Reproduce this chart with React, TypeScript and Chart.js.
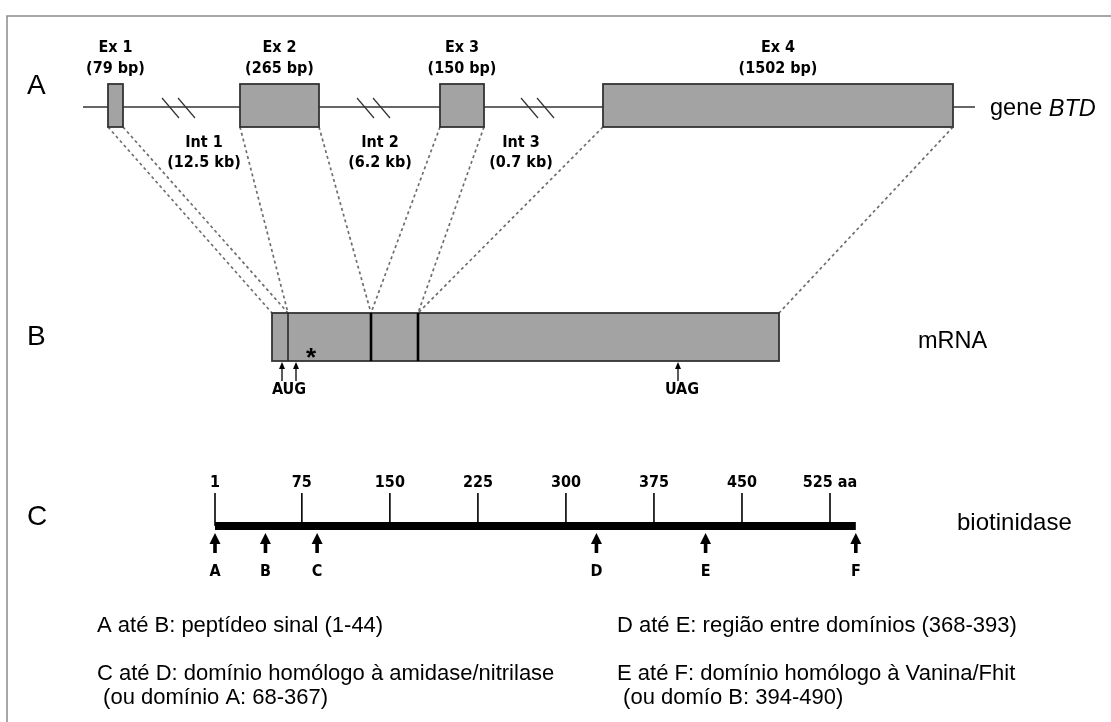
import React, { useEffect, useRef } from "react";
import { Chart, registerables } from "chart.js";

Chart.register(...registerables);

const W = 1111;
const H = 722;

// ---------- Panel A: gene BTD (schematic units along x) ----------
const exonNames = ["Ex 1", "Ex 2", "Ex 3", "Ex 4"];
const exonSizes = ["(79 bp)", "(265 bp)", "(150 bp)", "(1502 bp)"];
const exonStart = [108, 240, 440, 603];
const exonEnd = [123, 319, 484, 953];
const intronNames = ["Int 1", "Int 2", "Int 3"];
const intronSizes = ["(12.5 kb)", "(6.2 kb)", "(0.7 kb)"];
const intronLabelAt = [204, 380, 521];
const intronBreakAt = [162, 357, 521];
const geneExtent = [83, 975];

// ---------- Panel B: mRNA (schematic units along x) ----------
const mrnaExtent = [272, 779];
const mrnaJunctions = [288, 371, 418];
const mrnaExonStart = [272, 288, 371, 418];
const mrnaExonEnd = [288, 371, 418, 779];
const augSites = [282, 296];
const uagSites = [678];

// ---------- Panel C: protein (amino acids) ----------
const aaTicks = [1, 75, 150, 225, 300, 375, 450, 525];
const aaTickLabels = ["1", "75", "150", "225", "300", "375", "450", "525 aa"];
const proteinLength = 547;
const markerAA = [1, 44, 88, 326, 419, 547];
const markerLabels = ["A", "B", "C", "D", "E", "F"];

// ---------- Legend text ----------
const legendLeft = [
  "A até B: peptídeo sinal (1-44)",
  "C até D: domínio homólogo à amidase/nitrilase",
  " (ou domínio A: 68-367)",
];
const legendRight = [
  "D até E: região entre domínios (368-393)",
  "E até F: domínio homólogo à Vanina/Fhit",
  " (ou domío B: 394-490)",
];

// ---------- layout (pixels in the y scale) ----------
const L = {
  frameLeft: 7,
  frameTop: 16,
  geneY: 107,
  exonTop: 84,
  exonBottom: 127,
  exonLabel1: 48,
  exonLabel2: 69,
  intronLabel1: 143,
  intronLabel2: 163,
  breakTop: 98,
  breakBottom: 118,
  mrnaTop: 313,
  mrnaBottom: 361,
  codonText: 390,
  protY: 526,
  tickTop: 493,
  tickLabel: 483,
  arrowTip: 533,
  arrowBase: 553,
  markerText: 572,
  legendY: [626, 674, 698],
  legendLeftX: 97,
  legendRightX: 617,
};

// aa axis calibrated so aa 1 -> 215 px and aa 525 -> 830 px
const pxPerAA = (830 - 215) / 524;
const aaMin = 1 - 215 / pxPerAA;
const aaMax = aaMin + W / pxPerAA;

const BOLD = "'DejaVu Sans Condensed', 'DejaVu Sans', sans-serif";
const SANS = "'Liberation Sans', Arial, sans-serif";

function seg(x1: number, y1: number, x2: number, y2: number, style: any, axis = "x") {
  return {
    type: "scatter" as const,
    data: [
      { x: x1, y: y1 },
      { x: x2, y: y2 },
    ],
    showLine: true,
    pointRadius: 0,
    fill: false,
    xAxisID: axis,
    yAxisID: "y",
    borderCapStyle: "butt",
    ...style,
  };
}

function buildDatasets() {
  const ds: any[] = [];
  // frame
  ds.push({
    type: "scatter",
    data: [
      { x: L.frameLeft, y: H },
      { x: L.frameLeft, y: L.frameTop },
      { x: W, y: L.frameTop },
    ],
    showLine: true,
    pointRadius: 0,
    borderColor: "#8a8a8a",
    borderWidth: 1.5,
    xAxisID: "x",
    yAxisID: "y",
  });
  // gene line
  ds.push(seg(geneExtent[0], L.geneY, geneExtent[1], L.geneY, { borderColor: "#333", borderWidth: 1.5 }));
  // intron breaks
  intronBreakAt.forEach((b) => {
    ds.push(seg(b, L.breakTop, b + 17, L.breakBottom, { borderColor: "#333", borderWidth: 1.2 }));
    ds.push(seg(b + 16, L.breakTop, b + 33, L.breakBottom, { borderColor: "#333", borderWidth: 1.2 }));
  });
  // connectors exon -> mRNA
  exonStart.forEach((s, i) => {
    const st = { borderColor: "#6e6e6e", borderWidth: 1.7, borderDash: [3, 3] };
    ds.push(seg(s, L.exonBottom, mrnaExonStart[i], L.mrnaTop, st));
    ds.push(seg(exonEnd[i], L.exonBottom, mrnaExonEnd[i], L.mrnaTop, st));
  });
  // protein bar
  ds.push(seg(1, L.protY, proteinLength, L.protY, { borderColor: "#000", borderWidth: 8 }, "xaa"));
  // ticks
  aaTicks.forEach((t) => {
    ds.push(seg(t, L.tickTop, t, L.protY, { borderColor: "#000", borderWidth: 1.6 }, "xaa"));
  });
  return ds;
}

const diagramPlugin = {
  id: "diagram",
  beforeDraw(chart: any) {
    const ctx = chart.ctx;
    ctx.save();
    ctx.fillStyle = "#fff";
    ctx.fillRect(0, 0, chart.width, chart.height);
    ctx.restore();
  },
  afterDatasetsDraw(chart: any) {
    const ctx: CanvasRenderingContext2D = chart.ctx;
    const sx = chart.scales.x;
    const sa = chart.scales.xaa;
    const sy = chart.scales.y;
    const X = (v: number) => sx.getPixelForValue(v);
    const A = (v: number) => sa.getPixelForValue(v);
    const Y = (v: number) => sy.getPixelForValue(v);
    ctx.save();

    const text = (s: string, x: number, y: number, font: string, align: CanvasTextAlign = "center", base: CanvasTextBaseline = "middle") => {
      ctx.font = font;
      ctx.textAlign = align;
      ctx.textBaseline = base;
      ctx.fillStyle = "#000";
      ctx.fillText(s, x, y);
    };
    const LB = `bold 16px ${BOLD}`;

    // Panel letters
    text("A", 27, Y(86), `28px ${SANS}`, "left");
    text("B", 27, Y(337), `28px ${SANS}`, "left");
    text("C", 27, Y(517), `28px ${SANS}`, "left");

    // exons
    exonStart.forEach((s, i) => {
      const x0 = X(s);
      const x1 = X(exonEnd[i]);
      const y0 = Y(L.exonTop);
      const y1 = Y(L.exonBottom);
      ctx.fillStyle = "#a3a3a3";
      ctx.fillRect(x0, y0, x1 - x0, y1 - y0);
      ctx.strokeStyle = "#333";
      ctx.lineWidth = 1.8;
      ctx.strokeRect(x0, y0, x1 - x0, y1 - y0);
      const cx = (x0 + x1) / 2;
      text(exonNames[i], cx, Y(L.exonLabel1), LB);
      text(exonSizes[i], cx, Y(L.exonLabel2), LB);
    });
    // introns labels
    intronLabelAt.forEach((c, i) => {
      text(intronNames[i], X(c), Y(L.intronLabel1), LB);
      text(intronSizes[i], X(c), Y(L.intronLabel2), LB);
    });
    // gene BTD
    const gx = 990;
    const gy = Y(109);
    text("gene ", gx, gy, `23.5px ${SANS}`, "left");
    ctx.font = `23.5px ${SANS}`;
    const gw = ctx.measureText("gene ").width;
    text("BTD", gx + gw, gy, `italic 23.5px ${SANS}`, "left");

    // mRNA box
    {
      const x0 = X(mrnaExtent[0]);
      const x1 = X(mrnaExtent[1]);
      const y0 = Y(L.mrnaTop);
      const y1 = Y(L.mrnaBottom);
      ctx.fillStyle = "#a3a3a3";
      ctx.fillRect(x0, y0, x1 - x0, y1 - y0);
      ctx.strokeStyle = "#333";
      ctx.lineWidth = 1.8;
      ctx.strokeRect(x0, y0, x1 - x0, y1 - y0);
      mrnaJunctions.forEach((j, i) => {
        ctx.beginPath();
        ctx.strokeStyle = i === 0 ? "#2a2a2a" : "#000";
        ctx.lineWidth = i === 0 ? 1.6 : 2.6;
        ctx.moveTo(X(j), y0);
        ctx.lineTo(X(j), y1);
        ctx.stroke();
      });
      text("*", X(311), Y(366), `bold 26px ${SANS}`, "center", "alphabetic");
    }
    // thin arrows
    const thinArrow = (x: number) => {
      const tip = Y(L.mrnaBottom + 1);
      ctx.fillStyle = "#000";
      ctx.beginPath();
      ctx.moveTo(x, tip);
      ctx.lineTo(x - 3, tip + 7);
      ctx.lineTo(x + 3, tip + 7);
      ctx.closePath();
      ctx.fill();
      ctx.beginPath();
      ctx.strokeStyle = "#000";
      ctx.lineWidth = 1.3;
      ctx.moveTo(x, tip + 5);
      ctx.lineTo(x, Y(381));
      ctx.stroke();
    };
    augSites.forEach((s) => thinArrow(X(s)));
    uagSites.forEach((s) => thinArrow(X(s)));
    text("AUG", X((augSites[0] + augSites[1]) / 2), Y(L.codonText), LB);
    text("UAG", X(uagSites[0] + 4), Y(L.codonText), LB);
    text("mRNA", 918, Y(342), `23.5px ${SANS}`, "left");

    // Panel C tick labels
    aaTicks.forEach((t, i) => {
      text(aaTickLabels[i], A(t), Y(L.tickLabel), LB);
    });
    // markers
    markerAA.forEach((m, i) => {
      const x = A(m);
      const tip = Y(L.arrowTip);
      ctx.fillStyle = "#000";
      ctx.beginPath();
      ctx.moveTo(x, tip);
      ctx.lineTo(x - 5.5, tip + 11);
      ctx.lineTo(x + 5.5, tip + 11);
      ctx.closePath();
      ctx.fill();
      ctx.fillRect(x - 1.8, tip + 9, 3.6, Y(L.arrowBase) - tip - 9);
      text(markerLabels[i], x, Y(L.markerText), LB);
    });
    text("biotinidase", 957, Y(523), `24px ${SANS}`, "left");

    // legend
    legendLeft.forEach((s, i) => text(s, L.legendLeftX, Y(L.legendY[i]), `22px ${SANS}`, "left"));
    legendRight.forEach((s, i) => text(s, L.legendRightX, Y(L.legendY[i]), `22px ${SANS}`, "left"));

    ctx.restore();
  },
};

export default function App() {
  const ref = useRef<HTMLCanvasElement | null>(null);
  useEffect(() => {
    if (!ref.current) return;
    const chart = new Chart(ref.current, {
      type: "scatter",
      data: { datasets: buildDatasets() },
      options: {
        animation: false,
        responsive: false,
        maintainAspectRatio: false,
        devicePixelRatio: 1,
        layout: { padding: 0 },
        events: [],
        plugins: { legend: { display: false }, tooltip: { enabled: false } },
        scales: {
          x: { type: "linear", min: 0, max: W, display: false },
          xaa: { type: "linear", axis: "x", min: aaMin, max: aaMax, display: false },
          y: { type: "linear", min: 0, max: H, reverse: true, display: false },
        },
      } as any,
      plugins: [diagramPlugin],
    });
    return () => chart.destroy();
  }, []);
  return (
    <div style={{ position: "fixed", left: 0, top: 0, width: W, height: H, background: "#fff" }}>
      <canvas ref={ref} width={W} height={H} style={{ display: "block", width: W, height: H }} />
    </div>
  );
}
